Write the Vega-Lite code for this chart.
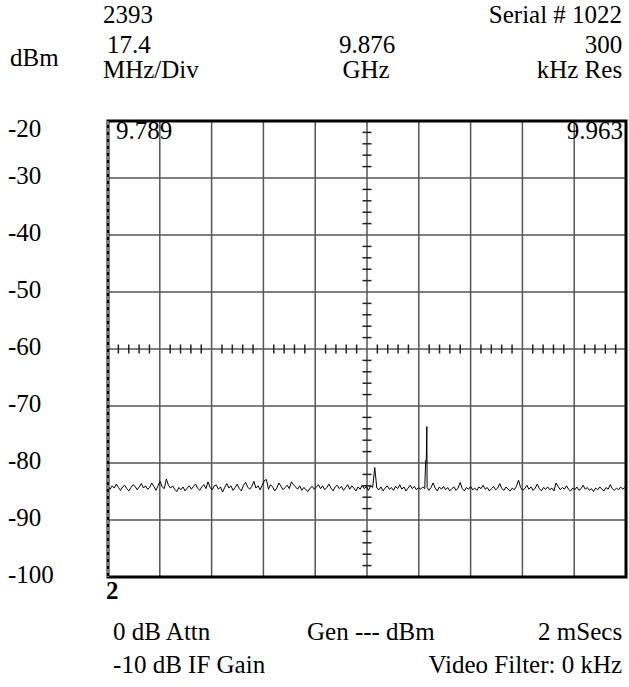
{
  "$schema": "https://vega.github.io/schema/vega-lite/v6.json",
  "width": 518,
  "height": 456,
  "autosize": {"type": "none"},
  "padding": {"left": 108, "top": 121, "right": 3, "bottom": 110},
  "background": "white",
  "config": {"view": {"stroke": null}, "font": "Liberation Serif",
    "text": {"font": "Liberation Serif", "fontSize": 25, "color": "black", "baseline": "middle"}},
  "encoding": {
    "x": {"type": "quantitative", "scale": {"domain": [9.789, 9.963], "nice": false, "zero": false}, "axis": null},
    "y": {"type": "quantitative", "scale": {"domain": [-100, -20], "nice": false, "zero": false}, "axis": null}
  },
  "datasets": {
    "one": [{}],
    "xgrid": [{"f":9.8064},{"f":9.8238},{"f":9.8412},{"f":9.8586},{"f":9.876},{"f":9.8934},{"f":9.9108},{"f":9.9282},{"f":9.9456}],
    "ygrid": [{"p":-30},{"p":-40},{"p":-50},{"p":-60},{"p":-70},{"p":-80},{"p":-90}],
    "ylab": [{"p":-30,"t":"-30"},{"p":-40,"t":"-40"},{"p":-50,"t":"-50"},{"p":-60,"t":"-60"},{"p":-70,"t":"-70"},{"p":-80,"t":"-80"},{"p":-90,"t":"-90"},{"p":-100,"t":"-100"}],
    "trace": [
      {"f":9.7890,"p":-84.1},{"f":9.7897,"p":-84.6},{"f":9.7904,"p":-84.0},{"f":9.7911,"p":-84.4},{"f":9.7918,"p":-83.7},{"f":9.7925,"p":-84.3},{"f":9.7932,"p":-84.8},{"f":9.7939,"p":-84.2},{"f":9.7946,"p":-83.9},{"f":9.7953,"p":-84.5},
      {"f":9.7960,"p":-84.9},{"f":9.7967,"p":-84.3},{"f":9.7974,"p":-83.8},{"f":9.7981,"p":-84.1},{"f":9.7988,"p":-84.7},{"f":9.7995,"p":-84.2},{"f":9.8002,"p":-83.6},{"f":9.8009,"p":-84.4},{"f":9.8016,"p":-84.0},{"f":9.8023,"p":-84.6},
      {"f":9.8030,"p":-84.3},{"f":9.8037,"p":-83.5},{"f":9.8044,"p":-84.1},{"f":9.8051,"p":-84.8},{"f":9.8058,"p":-84.0},{"f":9.8065,"p":-83.2},{"f":9.8072,"p":-84.2},{"f":9.8079,"p":-84.5},{"f":9.8086,"p":-82.8},{"f":9.8093,"p":-83.9},
      {"f":9.8100,"p":-84.4},{"f":9.8107,"p":-84.0},{"f":9.8114,"p":-84.6},{"f":9.8121,"p":-85.0},{"f":9.8128,"p":-84.3},{"f":9.8135,"p":-84.7},{"f":9.8142,"p":-84.2},{"f":9.8149,"p":-84.9},{"f":9.8156,"p":-84.4},{"f":9.8163,"p":-84.0},
      {"f":9.8170,"p":-84.6},{"f":9.8177,"p":-84.1},{"f":9.8184,"p":-83.7},{"f":9.8191,"p":-84.4},{"f":9.8198,"p":-84.8},{"f":9.8205,"p":-84.2},{"f":9.8212,"p":-83.8},{"f":9.8219,"p":-84.5},{"f":9.8226,"p":-83.3},{"f":9.8233,"p":-84.3},
      {"f":9.8240,"p":-84.7},{"f":9.8247,"p":-84.0},{"f":9.8254,"p":-83.9},{"f":9.8261,"p":-84.6},{"f":9.8268,"p":-84.2},{"f":9.8275,"p":-85.1},{"f":9.8282,"p":-84.3},{"f":9.8289,"p":-83.6},{"f":9.8296,"p":-84.4},{"f":9.8303,"p":-84.0},
      {"f":9.8310,"p":-84.8},{"f":9.8317,"p":-84.3},{"f":9.8324,"p":-83.7},{"f":9.8331,"p":-84.5},{"f":9.8338,"p":-84.9},{"f":9.8345,"p":-83.9},{"f":9.8352,"p":-83.4},{"f":9.8359,"p":-84.2},{"f":9.8366,"p":-84.6},{"f":9.8373,"p":-84.1},
      {"f":9.8380,"p":-83.2},{"f":9.8387,"p":-84.4},{"f":9.8394,"p":-84.0},{"f":9.8401,"p":-84.7},{"f":9.8408,"p":-83.9},{"f":9.8415,"p":-83.1},{"f":9.8422,"p":-82.9},{"f":9.8429,"p":-84.6},{"f":9.8436,"p":-83.8},{"f":9.8443,"p":-84.2},
      {"f":9.8450,"p":-84.9},{"f":9.8457,"p":-84.4},{"f":9.8464,"p":-83.5},{"f":9.8471,"p":-84.1},{"f":9.8478,"p":-84.7},{"f":9.8485,"p":-84.3},{"f":9.8492,"p":-83.9},{"f":9.8499,"p":-84.5},{"f":9.8506,"p":-83.3},{"f":9.8513,"p":-83.8},
      {"f":9.8520,"p":-84.2},{"f":9.8527,"p":-84.6},{"f":9.8534,"p":-84.0},{"f":9.8541,"p":-84.8},{"f":9.8548,"p":-84.3},{"f":9.8555,"p":-84.7},{"f":9.8562,"p":-85.0},{"f":9.8569,"p":-84.4},{"f":9.8576,"p":-84.1},{"f":9.8583,"p":-84.6},
      {"f":9.8590,"p":-84.2},{"f":9.8597,"p":-83.8},{"f":9.8604,"p":-84.5},{"f":9.8611,"p":-84.0},{"f":9.8618,"p":-84.7},{"f":9.8625,"p":-84.3},{"f":9.8632,"p":-83.7},{"f":9.8639,"p":-84.4},{"f":9.8646,"p":-84.9},{"f":9.8653,"p":-84.2},
      {"f":9.8660,"p":-83.9},{"f":9.8667,"p":-84.5},{"f":9.8674,"p":-84.1},{"f":9.8681,"p":-84.8},{"f":9.8688,"p":-84.3},{"f":9.8695,"p":-83.8},{"f":9.8702,"p":-84.6},{"f":9.8709,"p":-84.0},{"f":9.8716,"p":-84.4},{"f":9.8723,"p":-84.9},
      {"f":9.8730,"p":-84.2},{"f":9.8737,"p":-84.6},{"f":9.8744,"p":-83.9},{"f":9.8751,"p":-84.5},{"f":9.8758,"p":-84.1},{"f":9.8765,"p":-84.8},{"f":9.8772,"p":-84.0},{"f":9.8779,"p":-84.3},{"f":9.8786,"p":-80.8},{"f":9.8793,"p":-84.4},
      {"f":9.8800,"p":-84.7},{"f":9.8807,"p":-84.2},{"f":9.8814,"p":-84.9},{"f":9.8821,"p":-84.4},{"f":9.8828,"p":-84.0},{"f":9.8835,"p":-84.6},{"f":9.8842,"p":-84.3},{"f":9.8849,"p":-84.8},{"f":9.8856,"p":-84.1},{"f":9.8863,"p":-84.5},
      {"f":9.8870,"p":-83.8},{"f":9.8877,"p":-84.6},{"f":9.8884,"p":-84.2},{"f":9.8891,"p":-84.9},{"f":9.8898,"p":-84.4},{"f":9.8905,"p":-83.9},{"f":9.8912,"p":-84.5},{"f":9.8919,"p":-84.1},{"f":9.8926,"p":-84.7},{"f":9.8933,"p":-84.3},
      {"f":9.8940,"p":-84.6},{"f":9.8947,"p":-84.2},{"f":9.8954,"p":-84.5},{"f":9.8957,"p":-79.6},{"f":9.8959,"p":-79.7},{"f":9.8961,"p":-73.6},{"f":9.8962,"p":-84.3},{"f":9.8968,"p":-84.8},{"f":9.8975,"p":-84.3},{"f":9.8982,"p":-83.5},{"f":9.8989,"p":-84.4},{"f":9.8996,"p":-84.9},{"f":9.9003,"p":-84.2},
      {"f":9.9010,"p":-84.6},{"f":9.9017,"p":-84.1},{"f":9.9024,"p":-84.7},{"f":9.9031,"p":-84.3},{"f":9.9038,"p":-84.9},{"f":9.9045,"p":-84.5},{"f":9.9052,"p":-84.2},{"f":9.9059,"p":-84.8},{"f":9.9066,"p":-84.4},{"f":9.9073,"p":-83.4},
      {"f":9.9080,"p":-84.5},{"f":9.9087,"p":-84.9},{"f":9.9094,"p":-84.3},{"f":9.9101,"p":-84.6},{"f":9.9108,"p":-84.1},{"f":9.9115,"p":-84.7},{"f":9.9122,"p":-84.4},{"f":9.9129,"p":-84.8},{"f":9.9136,"p":-84.2},{"f":9.9143,"p":-84.5},
      {"f":9.9150,"p":-83.9},{"f":9.9157,"p":-84.6},{"f":9.9164,"p":-84.3},{"f":9.9171,"p":-84.9},{"f":9.9178,"p":-84.5},{"f":9.9185,"p":-84.1},{"f":9.9192,"p":-84.7},{"f":9.9199,"p":-84.4},{"f":9.9206,"p":-83.6},{"f":9.9213,"p":-84.5},
      {"f":9.9220,"p":-84.8},{"f":9.9227,"p":-84.2},{"f":9.9234,"p":-84.6},{"f":9.9241,"p":-84.9},{"f":9.9248,"p":-84.4},{"f":9.9255,"p":-84.7},{"f":9.9262,"p":-84.1},{"f":9.9269,"p":-83.0},{"f":9.9276,"p":-84.3},{"f":9.9283,"p":-84.8},
      {"f":9.9290,"p":-84.5},{"f":9.9297,"p":-83.9},{"f":9.9304,"p":-84.6},{"f":9.9311,"p":-84.2},{"f":9.9318,"p":-84.8},{"f":9.9325,"p":-84.4},{"f":9.9332,"p":-83.7},{"f":9.9339,"p":-84.5},{"f":9.9346,"p":-84.9},{"f":9.9353,"p":-84.3},
      {"f":9.9360,"p":-84.6},{"f":9.9367,"p":-84.2},{"f":9.9374,"p":-84.7},{"f":9.9381,"p":-84.4},{"f":9.9388,"p":-84.9},{"f":9.9395,"p":-83.5},{"f":9.9402,"p":-84.1},{"f":9.9409,"p":-84.7},{"f":9.9416,"p":-84.3},{"f":9.9423,"p":-84.6},
      {"f":9.9430,"p":-84.0},{"f":9.9437,"p":-84.6},{"f":9.9444,"p":-84.9},{"f":9.9451,"p":-84.4},{"f":9.9458,"p":-84.7},{"f":9.9465,"p":-84.2},{"f":9.9472,"p":-84.8},{"f":9.9479,"p":-84.5},{"f":9.9486,"p":-83.9},{"f":9.9493,"p":-84.6},
      {"f":9.9500,"p":-84.3},{"f":9.9507,"p":-84.8},{"f":9.9514,"p":-84.5},{"f":9.9521,"p":-85.0},{"f":9.9528,"p":-84.4},{"f":9.9535,"p":-84.7},{"f":9.9542,"p":-84.2},{"f":9.9549,"p":-84.6},{"f":9.9556,"p":-84.9},{"f":9.9563,"p":-84.3},
      {"f":9.9570,"p":-84.6},{"f":9.9577,"p":-83.8},{"f":9.9584,"p":-84.5},{"f":9.9591,"p":-84.8},{"f":9.9598,"p":-84.4},{"f":9.9605,"p":-84.7},{"f":9.9612,"p":-84.2},{"f":9.9619,"p":-84.6},{"f":9.9626,"p":-84.3},{"f":9.9630,"p":-84.5}
    ],
    "xticks": [
      {"f":9.79248},{"f":9.79596},{"f":9.79944},{"f":9.80292},{"f":9.80988},{"f":9.81336},{"f":9.81684},{"f":9.82032},
      {"f":9.82728},{"f":9.83076},{"f":9.83424},{"f":9.83772},{"f":9.84468},{"f":9.84816},{"f":9.85164},{"f":9.85512},
      {"f":9.86208},{"f":9.86556},{"f":9.86904},{"f":9.87252},{"f":9.87948},{"f":9.88296},{"f":9.88644},{"f":9.88992},
      {"f":9.89688},{"f":9.90036},{"f":9.90384},{"f":9.90732},{"f":9.91428},{"f":9.91776},{"f":9.92124},{"f":9.92472},
      {"f":9.93168},{"f":9.93516},{"f":9.93864},{"f":9.94212},{"f":9.94908},{"f":9.95256},{"f":9.95604},{"f":9.95952}
    ],
    "yticks": [
      {"p":-22},{"p":-24},{"p":-26},{"p":-28},{"p":-32},{"p":-34},{"p":-36},{"p":-38},
      {"p":-42},{"p":-44},{"p":-46},{"p":-48},{"p":-52},{"p":-54},{"p":-56},{"p":-58},
      {"p":-62},{"p":-64},{"p":-66},{"p":-68},{"p":-72},{"p":-74},{"p":-76},{"p":-78},
      {"p":-82},{"p":-84},{"p":-86},{"p":-88},{"p":-92},{"p":-94},{"p":-96},{"p":-98}
    ]
  },
  "layer": [
    {
      "data": {"name": "xgrid"},
      "mark": {"type": "rule", "color": "#555555", "strokeWidth": 1.5},
      "encoding": {"x": {"field": "f"}, "y": {"datum": -20}, "y2": {"datum": -100}}
    },
    {
      "data": {"name": "ygrid"},
      "mark": {"type": "rule", "color": "#555555", "strokeWidth": 1.5},
      "encoding": {"y": {"field": "p"}, "x": {"datum": 9.789}, "x2": {"datum": 9.963}}
    },
    {
      "data": {"name": "xticks"},
      "mark": {"type": "tick", "orient": "vertical", "size": 9, "thickness": 1.5, "color": "#222222", "opacity": 1},
      "encoding": {"x": {"field": "f"}, "y": {"datum": -60}}
    },
    {
      "data": {"name": "yticks"},
      "mark": {"type": "tick", "orient": "horizontal", "size": 9, "thickness": 1.5, "color": "#222222", "opacity": 1},
      "encoding": {"y": {"field": "p"}, "x": {"datum": 9.876}}
    },
    {
      "data": {"name": "trace"},
      "mark": {"type": "line", "color": "black", "strokeWidth": 1, "interpolate": "linear"},
      "encoding": {"x": {"field": "f"}, "y": {"field": "p"}}
    },
    {
      "data": {"name": "one"},
      "mark": {"type": "rect", "filled": false, "stroke": "black", "strokeWidth": 3},
      "encoding": {"x": {"datum": 9.789}, "x2": {"datum": 9.963}, "y": {"datum": -20}, "y2": {"datum": -100}}
    },
    {
      "data": {"name": "one"},
      "mark": {"type": "rule", "color": "white", "strokeWidth": 1, "strokeDash": [4, 3]},
      "encoding": {"x": {"datum": 9.789}, "y": {"datum": -20}, "y2": {"datum": -100}}
    },
    {
      "data": {"name": "ylab"},
      "mark": {"type": "text", "align": "left", "dy": -2},
      "encoding": {"x": {"datum": 9.7554}, "y": {"field": "p"}, "text": {"field": "t", "type": "nominal"}}
    },
    {"data": {"name": "one"}, "mark": {"type": "text", "text": "-20", "align": "left", "dy": 8},
     "encoding": {"x": {"datum": 9.7554}, "y": {"datum": -20}}},
    {"data": {"name": "one"}, "mark": {"type": "text", "text": "dBm", "align": "left"},
     "encoding": {"x": {"datum": 9.7561}, "y": {"datum": -8.95}}},
    {"data": {"name": "one"}, "mark": {"type": "text", "text": "2393", "align": "left"},
     "encoding": {"x": {"datum": 9.7873}, "y": {"datum": -1.4}}},
    {"data": {"name": "one"}, "mark": {"type": "text", "text": "Serial # 1022", "align": "right"},
     "encoding": {"x": {"datum": 9.9617}, "y": {"datum": -1.4}}},
    {"data": {"name": "one"}, "mark": {"type": "text", "text": "17.4", "align": "left"},
     "encoding": {"x": {"datum": 9.7887}, "y": {"datum": -6.6}}},
    {"data": {"name": "one"}, "mark": {"type": "text", "text": "MHz/Div", "align": "left"},
     "encoding": {"x": {"datum": 9.7873}, "y": {"datum": -11.05}}},
    {"data": {"name": "one"}, "mark": {"type": "text", "text": "9.876", "align": "center"},
     "encoding": {"x": {"datum": 9.876}, "y": {"datum": -6.6}}},
    {"data": {"name": "one"}, "mark": {"type": "text", "text": "GHz", "align": "center"},
     "encoding": {"x": {"datum": 9.8757}, "y": {"datum": -11.05}}},
    {"data": {"name": "one"}, "mark": {"type": "text", "text": "300", "align": "right"},
     "encoding": {"x": {"datum": 9.9617}, "y": {"datum": -6.6}}},
    {"data": {"name": "one"}, "mark": {"type": "text", "text": "kHz Res", "align": "right"},
     "encoding": {"x": {"datum": 9.9617}, "y": {"datum": -11.05}}},
    {"data": {"name": "one"}, "mark": {"type": "text", "text": "9.789", "align": "left"},
     "encoding": {"x": {"datum": 9.7917}, "y": {"datum": -21.75}}},
    {"data": {"name": "one"}, "mark": {"type": "text", "text": "9.963", "align": "right"},
     "encoding": {"x": {"datum": 9.962}, "y": {"datum": -21.75}}},
    {"data": {"name": "one"}, "mark": {"type": "text", "text": "2", "align": "left", "fontWeight": "bold"},
     "encoding": {"x": {"datum": 9.7883}, "y": {"datum": -102.46}}},
    {"data": {"name": "one"}, "mark": {"type": "text", "text": "0 dB Attn", "align": "left"},
     "encoding": {"x": {"datum": 9.7907}, "y": {"datum": -109.65}}},
    {"data": {"name": "one"}, "mark": {"type": "text", "text": "Gen --- dBm", "align": "center"},
     "encoding": {"x": {"datum": 9.8773}, "y": {"datum": -109.65}}},
    {"data": {"name": "one"}, "mark": {"type": "text", "text": "2 mSecs", "align": "right"},
     "encoding": {"x": {"datum": 9.9617}, "y": {"datum": -109.65}}},
    {"data": {"name": "one"}, "mark": {"type": "text", "text": "-10 dB IF Gain", "align": "left"},
     "encoding": {"x": {"datum": 9.7907}, "y": {"datum": -115.44}}},
    {"data": {"name": "one"}, "mark": {"type": "text", "text": "Video Filter: 0 kHz", "align": "right"},
     "encoding": {"x": {"datum": 9.9617}, "y": {"datum": -115.44}}}
  ]
}
